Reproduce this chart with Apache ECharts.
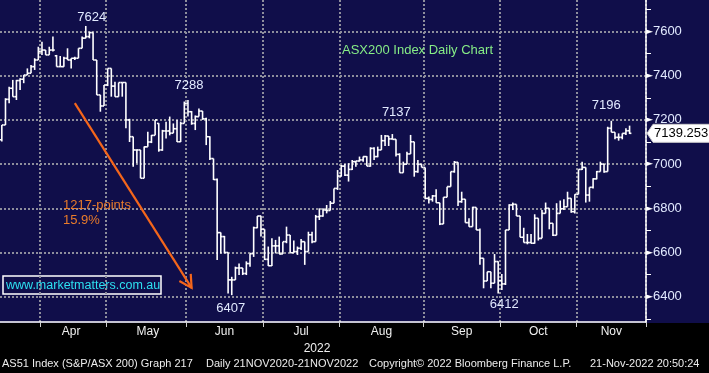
<!DOCTYPE html>
<html><head><meta charset="utf-8">
<script src="https://cdn.jsdelivr.net/npm/echarts@6/dist/echarts.min.js"></script>
<style>html,body{margin:0;padding:0;background:#000;}#c{width:709px;height:373px;}</style>
</head><body><div id="c"></div>
<script>
// ---- data (ASX200 daily OHLC, 17 Mar 2022 - 21 Nov 2022) ----
const openP = [
 7110,7177,7293,7343,7305,7378,7384,7403,7411,7441,7471,
 7510,7516,7494,7516,7490,7441,7441,7479,7471,7479,7479,7524,7570,7577,7595,7471,7313,7263,
 7358,7433,7353,7305,7369,7369,7200,7124,7064,7064,6936,7078,7100,7130,7184,7064,7150,7150,7140,7160,7101,7184,
 7275,7237,7184,7215,7240,7205,7124,7025,6930,6690,6672,6600,6476,6476,6530,6530,6505,6550,6595,6712,6765,
 6705,6569,6540,6630,6630,6593,6649,6679,6599,6604,6619,6649,6604,6680,6649,6762,6765,6792,6790,6823,6890,
 6946,6991,6950,6976,7011,7014,7019,7034,6991,7071,7034,7064,7106,7127,7114,7112,7044,6961,6999,7046,7101,6966,6999,
 6985,6845,6840,6856,6825,6729,6850,6898,6966,7008,6830,6841,6735,6717,6804,6702,6574,6471,6513,6461,6559,
 6473,6458,6702,6815,6818,6765,6669,6645,6645,6642,6755,6664,6777,6800,6732,6678,6777,6798,6807,6845,6785,
 6863,6976,6985,6860,6895,6933,6966,7000,6966,7162,7144,7121,7121,7139,7151
];
const highP = [
 7177,7298,7350,7381,7381,7388,7403,7433,7448,7479,7531,
 7554,7516,7531,7577,7494,7489,7486,7524,7479,7486,7524,7577,7625,7599,7595,7471,7313,7358,
 7433,7433,7373,7369,7369,7369,7205,7124,7066,7064,7080,7146,7132,7200,7185,7155,7192,7215,7184,7200,7192,7283,
 7290,7240,7220,7252,7240,7210,7126,7025,6935,6690,6675,6600,6490,6536,6550,6530,6560,6596,6717,6765,6766,
 6705,6627,6664,6657,6672,6649,6717,6679,6654,6627,6661,6649,6694,6694,6770,6800,6800,6815,6833,6890,6973,
 6996,7000,7004,7019,7014,7034,7034,7036,7076,7076,7079,7132,7132,7127,7136,7112,7049,7011,7056,7132,7101,7019,7000,
 6985,6853,6860,6886,6825,6850,6898,6966,7014,7008,6875,6841,6755,6807,6804,6709,6574,6513,6513,6593,6560,
 6503,6702,6818,6826,6818,6765,6712,6684,6684,6773,6755,6792,6826,6800,6732,6823,6835,6841,6875,6845,6863,
 6976,7011,6985,6895,6936,6969,7011,7000,7169,7196,7144,7139,7139,7162,7174
];
const lowP = [
 7102,7177,7275,7305,7290,7335,7366,7403,7411,7426,7471,
 7494,7494,7494,7510,7441,7441,7441,7471,7433,7471,7479,7524,7569,7569,7471,7313,7237,7263,
 7353,7305,7305,7305,7305,7162,7100,6988,7004,6936,6936,7078,7095,7130,7056,7060,7116,7130,7140,7100,7100,7184,
 7215,7178,7154,7215,7200,7086,7019,6928,6566,6596,6596,6415,6407,6476,6498,6498,6498,6536,6580,6710,6672,
 6566,6539,6539,6596,6593,6593,6642,6599,6599,6589,6611,6544,6604,6642,6649,6747,6762,6777,6790,6823,6883,
 6943,6946,6921,6973,6988,7011,7011,6991,6988,7019,7031,7064,7082,7082,7112,7034,6961,6961,6999,7046,6943,6961,6985,
 6841,6822,6830,6825,6724,6729,6850,6898,6961,6810,6825,6735,6717,6717,6702,6544,6438,6471,6438,6461,6415,
 6430,6453,6702,6792,6765,6669,6645,6637,6642,6640,6654,6664,6777,6705,6675,6678,6777,6792,6807,6780,6777,
 6863,6973,6826,6830,6890,6931,6966,6961,6966,7144,7112,7106,7112,7132,7136
];
const closeP = [
 7177,7293,7343,7305,7378,7384,7403,7411,7441,7471,7510,
 7516,7494,7516,7516,7441,7441,7479,7471,7479,7479,7524,7570,7577,7595,7471,7313,7263,7358,
 7433,7353,7305,7369,7369,7200,7124,7064,7064,6936,7078,7100,7130,7200,7064,7150,7150,7140,7160,7101,7184,7275,
 7237,7184,7215,7240,7205,7124,7025,6930,6690,6672,6600,6476,6476,6530,6530,6505,6550,6595,6712,6765,6705,
 6569,6540,6630,6630,6593,6649,6679,6599,6604,6619,6649,6604,6680,6649,6762,6765,6792,6790,6823,6890,6946,
 6991,6950,6976,7011,7014,7019,7034,6991,7071,7034,7064,7106,7127,7114,7112,7044,6961,6999,7046,7101,6966,6999,6985,
 6845,6840,6856,6825,6729,6850,6898,6966,7008,6830,6841,6735,6717,6804,6702,6574,6471,6513,6461,6559,6473,
 6458,6702,6815,6818,6765,6669,6645,6645,6642,6755,6664,6777,6800,6732,6678,6777,6798,6807,6845,6785,6863,
 6976,6985,6860,6895,6933,6966,7000,6966,7162,7144,7121,7121,7139,7151,7139.253
];
const categoryCount = 177;               // trading-day slots on the axis
const monthNames = ['Apr','May','Jun','Jul','Aug','Sep','Oct','Nov'];
const monthStartIdx = [11,29,51,72,93,116,137,158];
const monthLabelIdx = [19,40,61,82,104,126,147,167];
const yearLabel = '2022';
const yMajorTicks = [6400,6600,6800,7000,7200,7400,7600];
const yMinorTicks = [6300,6500,6700,6900,7100,7300,7500,7700];
const peakIdx  = [23,51,107,167,63,136];
const peakVal  = [7625,7290,7136,7196,6407,6415];
const peakText = ['7624','7288','7137','7196','6407','6412'];
const lastIdx = 172, lastPrice = 7139.253;
const arrowFrom = [20, 7276], arrowTo = [52, 6440];
const moveText = ['1217-points','15.9%'];
const titleText = 'ASX200 Index Daily Chart';
const siteText = 'www.marketmatters.com.au';
const footerText = ['AS51 Index (S&P/ASX 200) Graph 217','Daily 21NOV2020-21NOV2022','Copyright\u00a9 2022 Bloomberg Finance L.P.','21-Nov-2022 20:50:24'];

// ---- layout / style ----
const peakLabelShift = [[6,-8.5],[1,-14.5],[4,-21.5],[-5,-15],[-1,13.5],[6,11.5]];
const footerX = [2,206,369,590];
const FONT = "'Liberation Sans', Arial, sans-serif";
const NAVY = '#100e4a', GRIDC = '#8e8e9c', ORANGE = '#f4661b', LABELC = '#e2eaff';

const chart = echarts.init(document.getElementById('c'), null, {renderer:'canvas', width:709, height:373});
const ohlcRows = closeP.map((c, i) => [i, openP[i], highP[i], lowP[i], c]);
const categories = Array.from({length: categoryCount}, (_, i) => String(i));
const labelFor = {};
monthLabelIdx.forEach((d, k) => { labelFor[d] = monthNames[k]; });
const isMonthStart = (idx) => monthStartIdx.indexOf(idx) >= 0;
const peakRows = peakIdx.map((d, k) => [d, peakVal[k], k]);

const option = {
  backgroundColor: NAVY,
  animation: false,
  textStyle: {fontFamily: FONT},
  title: {text: titleText, left: 342, top: 44, padding: 0,
          textStyle: {color: '#86ec86', fontSize: 13, fontWeight: 'normal', fontFamily: FONT}},
  grid: {left: 0, top: 0, width: 646, height: 322, containLabel: false, outerBoundsMode: 'none'},
  xAxis: {
    type: 'category', data: categories, boundaryGap: true,
    name: yearLabel, nameLocation: 'middle', nameGap: 20,
    nameTextStyle: {color: '#f0f0f0', fontSize: 12, fontFamily: FONT, padding: [0, 12, 0, 0]},
    axisLine: {show: true, lineStyle: {color: '#ffffff', width: 1.5}},
    axisTick: {show: true, interval: (idx) => isMonthStart(idx), length: 5, lineStyle: {color: '#cfcfcf'}},
    axisLabel: {show: true, interval: 0, margin: 4, color: '#f0f0f0', fontSize: 12, fontFamily: FONT,
                formatter: (v, idx) => labelFor[idx] || ''},
    splitLine: {show: true, interval: (idx) => isMonthStart(idx),
                lineStyle: {color: GRIDC, width: 2, type: [2, 2]}}
  },
  yAxis: [{
    type: 'value', position: 'right', min: 6285.5, max: 7742.5, scale: true,
    axisLine: {show: true, lineStyle: {color: '#ffffff', width: 1.5}},
    axisTick: {show: false, customValues: yMajorTicks},
    axisLabel: {show: true, customValues: yMajorTicks, margin: 0,
      formatter: (v) => '{t|\u25BA}{n|' + v + '}',
      rich: {t: {fontSize: 9, color: '#ffffff', fontFamily: 'DejaVu Sans'},
             n: {fontSize: 13, color: LABELC, fontFamily: FONT}}},
    splitLine: {show: true, lineStyle: {color: GRIDC, width: 2, type: [2, 2]}}
  }, {
    type: 'value', position: 'right', min: 6285.5, max: 7742.5, scale: true,
    axisLine: {show: false},
    axisTick: {show: true, customValues: yMinorTicks, length: 5, lineStyle: {color: '#ffffff', width: 1}},
    axisLabel: {show: false},
    splitLine: {show: false}
  }],
  series: [{
    type: 'custom', name: 'AS51', z: 3,
    data: ohlcRows, dimensions: ['idx','open','high','low','close'],
    encode: {x: 0, y: [1,2,3,4]},
    renderItem: (params, api) => {
      const i = api.value(0);
      const o = api.coord([i, api.value(1)]);
      const h = api.coord([i, api.value(2)]);
      const l = api.coord([i, api.value(3)]);
      const c = api.coord([i, api.value(4)]);
      const half = api.size([1, 0])[0] / 2;
      const x = o[0];
      const st = {stroke: '#ffffff', lineWidth: 1.6};
      return {type: 'group', children: [
        {type: 'line', shape: {x1: x, y1: h[1], x2: x, y2: l[1]}, style: st},
        {type: 'line', shape: {x1: x - half, y1: o[1], x2: x, y2: o[1]}, style: st},
        {type: 'line', shape: {x1: x, y1: c[1], x2: x + half, y2: c[1]}, style: st}
      ]};
    }
  }, {
    type: 'custom', name: 'peaks', z: 4,
    data: peakRows, encode: {x: 0, y: 1},
    renderItem: (params, api) => {
      const k = api.value(2);
      const p = api.coord([api.value(0), api.value(1)]);
      return {type: 'text', x: p[0] + peakLabelShift[k][0], y: p[1] + peakLabelShift[k][1],
        style: {text: peakText[k], fill: LABELC, fontSize: 13, fontFamily: FONT, align: 'center', verticalAlign: 'middle'}};
    }
  }, {
    type: 'custom', name: 'move', z: 4,
    data: [[arrowFrom[0], arrowFrom[1], arrowTo[0], arrowTo[1]]], encode: {x: [0,2], y: [1,3]},
    renderItem: (params, api) => {
      const p0 = api.coord([api.value(0), api.value(1)]);
      const p1 = api.coord([api.value(2), api.value(3)]);
      const ang = Math.atan2(p0[1] - p1[1], p0[0] - p1[0]);
      const len = 14, spread = 0.5;
      const w1 = [p1[0] + len * Math.cos(ang + spread), p1[1] + len * Math.sin(ang + spread)];
      const w2 = [p1[0] + len * Math.cos(ang - spread), p1[1] + len * Math.sin(ang - spread)];
      const st = {stroke: ORANGE, lineWidth: 2.2, fill: null};
      return {type: 'group', children: [
        {type: 'line', shape: {x1: p0[0], y1: p0[1], x2: p1[0], y2: p1[1]}, style: st},
        {type: 'polyline', shape: {points: [w1, p1, w2]}, style: st}
      ]};
    }
  }, {
    type: 'custom', name: 'last', z: 6,
    data: [[lastIdx, lastPrice]], encode: {x: 0, y: 1},
    renderItem: (params, api) => {
      const p = api.coord([api.value(0), api.value(1)]);
      const x0 = params.coordSys.x + params.coordSys.width;
      const y = p[1];
      return {type: 'group', children: [
        {type: 'polygon', shape: {points: [[x0 + 1, y], [x0 + 7, y - 9], [x0 + 70, y - 9], [x0 + 70, y + 9], [x0 + 7, y + 9]]},
         style: {fill: '#ffffff', stroke: '#cccccc', lineWidth: 1}},
        {type: 'text', x: x0 + 8, y: y, style: {text: String(api.value(1)), fill: '#000000', fontSize: 13, fontFamily: FONT, align: 'left', verticalAlign: 'middle'}}
      ]};
    }
  }],
  graphic: {elements: [
    {type: 'rect', z: -10, shape: {x: 0, y: 323, width: 709, height: 50}, style: {fill: '#000000'}},
    {type: 'text', z: 5, x: 63, y: 198, style: {text: moveText.join('\n'), fill: '#e97b2a', fontSize: 13, fontFamily: FONT, lineHeight: 15}},
    {type: 'group', z: 5, children: [
      {type: 'rect', shape: {x: 3, y: 276, width: 158, height: 18}, style: {fill: NAVY, stroke: '#ffffff', lineWidth: 1.5}},
      {type: 'text', x: 6, y: 285.5, style: {text: siteText, fill: '#2de0f0', fontSize: 12.5, fontFamily: FONT, verticalAlign: 'middle'}}
    ]},
    ...footerText.map((t, k) => ({type: 'text', z: 5, x: footerX[k], y: 364,
      style: {text: t, fill: '#ececec', fontSize: 11, fontFamily: FONT, verticalAlign: 'middle'}}))
  ]}
};
chart.setOption(option);
</script>
</body></html>
